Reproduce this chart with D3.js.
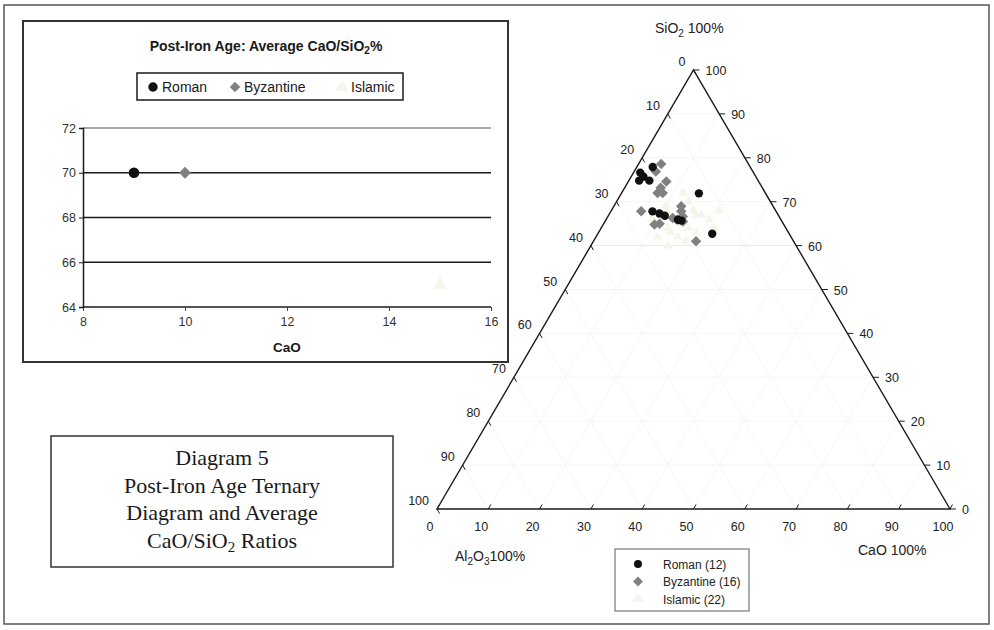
<!DOCTYPE html>
<html>
<head>
<meta charset="utf-8">
<script src="https://cdn.jsdelivr.net/npm/d3@7.9.0/dist/d3.min.js"></script>
<style>
  body { margin: 0; background: #fff; }
  svg { display: block; }
  .sans { font-family: "Liberation Sans", Arial, sans-serif; }
  .serif { font-family: "Liberation Serif", "Times New Roman", serif; }
</style>
</head>
<body>
<svg id="chart" width="994" height="630"></svg>
<script>
// ---- data ----
const groups = ["Roman", "Byzantine", "Islamic"];
const groupCounts = [12, 16, 22];

// ternary compositions (%)
const romanSiO2  = [76.7, 77.9, 74.8, 74.8, 71.9, 67.8, 66.8, 65.9, 62.7, 75.7, 67.3, 65.7];
const romanAl2O3 = [22.1, 19.0, 23.2, 21.2, 13.0, 24.1, 22.2, 20.1, 15.0, 21.9, 23.0, 19.5];
const romanCaO   = [ 1.3,  3.1,  2.0,  4.0, 15.1,  8.1, 11.0, 14.0, 22.3,  2.4,  9.7, 14.8];

const byzSiO2  = [78.6, 76.9, 74.6, 72.0, 72.0, 67.8, 64.8, 65.0, 68.9, 67.8, 66.7, 66.3, 65.5, 61.0, 73.2, 65.9];
const byzAl2O3 = [17.0, 18.9, 18.0, 21.0, 20.0, 26.3, 25.2, 24.1, 17.9, 18.5, 18.8, 20.9, 19.3, 19.0, 19.8, 20.2];
const byzCaO   = [ 4.4,  4.2,  7.4,  7.0,  8.0,  5.9, 10.0, 10.9, 13.1, 13.7, 14.6, 12.8, 15.2, 20.0,  7.0, 13.9];

const islSiO2 = [72, 70, 69, 68, 67, 66, 66, 65, 65, 64, 64, 63, 63, 62, 62, 61, 66, 68, 60, 64, 67, 68];
const islCaO  = [12, 14, 10, 16, 18, 13, 20, 15, 11, 17, 22, 14, 19, 16, 12, 18,  9, 21, 15, 13, 17, 11];
const islAl2O3 = islSiO2.map((s, i) => 100 - s - islCaO[i]);

// inset: average CaO / SiO2
const avgCaO  = [9, 10, 15];
const avgSiO2 = [70, 70, 65];

const insetXTicks = [8, 10, 12, 14, 16];
const insetYTicks = [64, 66, 68, 70, 72];
const ternaryTicks = [0, 10, 20, 30, 40, 50, 60, 70, 80, 90, 100];

// ---- drawing ----
const svg = d3.select("#chart");
const ink = "#1a1a1a";
const markColor = ["#111", "#808080", "#f5f5ec"];

function symbolPath(i, size) {
  if (i === 0) return d3.symbol(d3.symbolCircle, size)();
  if (i === 1) return d3.symbol(d3.symbolSquare, size)();
  return d3.symbol(d3.symbolTriangle, size)();
}
function addMark(g, i, x, y, size) {
  g.append("path")
    .attr("d", symbolPath(i, size))
    .attr("transform", `translate(${x},${y})` + (i === 1 ? " rotate(45)" : ""))
    .attr("fill", markColor[i]);
}

// outer frame
svg.append("rect")
  .attr("x", 4).attr("y", 5).attr("width", 985).attr("height", 619)
  .attr("fill", "none").attr("stroke", "#555").attr("stroke-width", 1.5);

// ===== inset chart =====
const inset = svg.append("g").attr("class", "sans");
inset.append("rect")
  .attr("x", 23).attr("y", 21).attr("width", 485).attr("height", 341)
  .attr("fill", "#fff").attr("stroke", "#333").attr("stroke-width", 2);

const ix = d3.scaleLinear().domain([8, 16]).range([83, 491]);
const iy = d3.scaleLinear().domain([64, 72]).range([307, 128]);

const title = inset.append("text")
  .attr("x", 266).attr("y", 51)
  .attr("text-anchor", "middle")
  .attr("font-size", 14).attr("font-weight", "bold").attr("fill", ink);
title.append("tspan").text("Post-Iron Age: Average CaO/SiO");
title.append("tspan").attr("font-size", 10).attr("dy", 3).text("2");
title.append("tspan").attr("dy", -3).text("%");

// legend
inset.append("rect")
  .attr("x", 137).attr("y", 73).attr("width", 266).attr("height", 27)
  .attr("fill", "none").attr("stroke", ink).attr("stroke-width", 1.5);
const insetLegendX = [153, 235, 342];
groups.forEach((name, i) => {
  addMark(inset, i, insetLegendX[i], 87, i === 1 ? 55 : 70);
  inset.append("text")
    .attr("x", insetLegendX[i] + 9).attr("y", 92)
    .attr("font-size", 14).attr("fill", ink)
    .text(name);
});

// gridlines
insetYTicks.forEach(v => {
  inset.append("line")
    .attr("x1", ix(8)).attr("x2", ix(16))
    .attr("y1", iy(v)).attr("y2", iy(v))
    .attr("stroke", v === 72 ? "#8a8a8a" : ink)
    .attr("stroke-width", v === 64 ? 1.6 : 1.4);
});

const xAxis = d3.axisBottom(ix).tickValues(insetXTicks).tickSize(4).tickPadding(6);
const yAxis = d3.axisLeft(iy).tickValues(insetYTicks).tickSize(4).tickPadding(3);

inset.append("g")
  .attr("transform", `translate(0,${iy(64)})`)
  .call(xAxis)
  .call(g => g.select(".domain").remove())
  .call(g => g.selectAll("line").attr("stroke", "#444"))
  .call(g => g.selectAll("text").attr("font-size", 12.5).attr("fill", "#333")
    .attr("font-family", "Liberation Sans, Arial, sans-serif"));

inset.append("g")
  .attr("transform", `translate(${ix(8)},0)`)
  .call(yAxis)
  .call(g => g.select(".domain").attr("stroke", ink).attr("stroke-width", 1.5))
  .call(g => g.selectAll("line").attr("stroke", ink))
  .call(g => g.selectAll("text").attr("font-size", 12.5).attr("fill", "#333")
    .attr("font-family", "Liberation Sans, Arial, sans-serif"));

inset.append("text")
  .attr("x", 287).attr("y", 352)
  .attr("text-anchor", "middle")
  .attr("font-size", 13.5).attr("font-weight", "bold").attr("fill", ink)
  .text("CaO");

avgCaO.forEach((c, i) => {
  addMark(inset, i, ix(c), iy(avgSiO2[i]), i === 1 ? 70 : 88);
});

// ===== caption box =====
const cap = svg.append("g").attr("class", "serif");
cap.append("rect")
  .attr("x", 51).attr("y", 436).attr("width", 342).attr("height", 131)
  .attr("fill", "#fff").attr("stroke", "#333").attr("stroke-width", 1.5);
const capLines = ["Diagram 5", "Post-Iron Age Ternary", "Diagram and Average"];
capLines.forEach((t, i) => {
  cap.append("text")
    .attr("x", 222).attr("y", 465 + i * 27.5)
    .attr("text-anchor", "middle")
    .attr("font-size", 22).attr("fill", ink)
    .text(t);
});
const capLast = cap.append("text")
  .attr("x", 222).attr("y", 465 + 3 * 27.5)
  .attr("text-anchor", "middle")
  .attr("font-size", 22).attr("fill", ink);
capLast.append("tspan").text("CaO/SiO");
capLast.append("tspan").attr("font-size", 15).attr("dy", 4).text("2");
capLast.append("tspan").attr("dy", -4).text(" Ratios");

// ===== ternary =====
const tern = svg.append("g").attr("class", "sans");
const base = d3.scaleLinear().domain([0, 100]).range([437, 950]);
const height = d3.scaleLinear().domain([0, 100]).range([509, 70]);

// point from composition
function tp(si, al, ca) {
  const t = si + al + ca;
  const s = si / t * 100, c = ca / t * 100;
  return [base(c + s / 2), height(s)];
}

// faint grid
const grid = tern.append("g").attr("stroke", "#f6f6f6").attr("stroke-width", 1).attr("fill", "none");
ternaryTicks.slice(1, -1).forEach(v => {
  // constant SiO2
  let a = tp(v, 100 - v, 0), b = tp(v, 0, 100 - v);
  grid.append("line").attr("x1", a[0]).attr("y1", a[1]).attr("x2", b[0]).attr("y2", b[1])
    .attr("stroke", v === 60 ? "#ebebe4" : "#f6f6f6");
  // constant CaO
  a = tp(100 - v, 0, v); b = tp(0, 100 - v, v);
  grid.append("line").attr("x1", a[0]).attr("y1", a[1]).attr("x2", b[0]).attr("y2", b[1]);
  // constant Al2O3
  a = tp(100 - v, v, 0); b = tp(0, v, 100 - v);
  grid.append("line").attr("x1", a[0]).attr("y1", a[1]).attr("x2", b[0]).attr("y2", b[1]);
});

// triangle outline
const vT = tp(100, 0, 0), vL = tp(0, 100, 0), vR = tp(0, 0, 100);
tern.append("path")
  .attr("d", d3.line()([vL, vR, vT, vL]) + "Z")
  .attr("fill", "none").attr("stroke", ink).attr("stroke-width", 1.4);

// ticks and labels
const tickG = tern.append("g").attr("stroke", ink).attr("stroke-width", 1);
const labG = tern.append("g").attr("font-size", 12.5).attr("fill", "#222");
ternaryTicks.forEach(v => {
  // bottom axis: CaO 0 -> 100
  let p = tp(0, 100 - v, v);
  tickG.append("line").attr("x1", p[0]).attr("y1", p[1]).attr("x2", p[0] + 2.5).attr("y2", p[1] - 4.5);
  labG.append("text").attr("x", p[0] - 7).attr("y", p[1] + 22).attr("text-anchor", "middle").text(v);
  // left axis: Al2O3 0 (top) -> 100 (bottom left)
  p = tp(100 - v, v, 0);
  tickG.append("line").attr("x1", p[0]).attr("y1", p[1]).attr("x2", p[0] + 2.5).attr("y2", p[1] + 4.5);
  labG.append("text").attr("x", p[0] - 8).attr("y", p[1] - 4).attr("text-anchor", "end").text(v);
  // right axis: SiO2 0 (bottom right) -> 100 (top)
  p = tp(v, 0, 100 - v);
  tickG.append("line").attr("x1", p[0]).attr("y1", p[1]).attr("x2", p[0] + 6).attr("y2", p[1]);
  labG.append("text").attr("x", p[0] + 12).attr("y", p[1] + 5).attr("text-anchor", "start").text(v);
});

// vertex labels (subscripts as lowered tspans)
function chemLabel(x, y, parts) {
  const t = tern.append("text").attr("x", x).attr("y", y)
    .attr("font-size", 14).attr("fill", "#222");
  let low = false;
  parts.forEach(([txt, sub]) => {
    const dy = sub ? (low ? 0 : 4) : (low ? -4 : 0);
    low = !!sub;
    const s = t.append("tspan").attr("dy", dy).text(txt);
    if (sub) s.attr("font-size", 10);
  });
}
chemLabel(655, 33, [["SiO"], ["2", true], [" 100%"]]);
chemLabel(455, 561, [["Al"], ["2", true], ["O"], ["3", true], ["100%"]]);
tern.append("text").attr("x", 858).attr("y", 555)
  .attr("font-size", 14).attr("fill", "#222").text("CaO 100%");

// data marks: Islamic first (faint), then Byzantine, then Roman
const marks = tern.append("g");
islSiO2.forEach((s, i) => {
  const p = tp(s, islAl2O3[i], islCaO[i]);
  addMark(marks, 2, p[0], p[1], 40);
});
byzSiO2.forEach((s, i) => {
  const p = tp(s, byzAl2O3[i], byzCaO[i]);
  addMark(marks, 1, p[0], p[1], 55);
});
romanSiO2.forEach((s, i) => {
  const p = tp(s, romanAl2O3[i], romanCaO[i]);
  addMark(marks, 0, p[0], p[1], 55);
});

// ternary legend
const tl = svg.append("g").attr("class", "sans");
tl.append("rect")
  .attr("x", 615).attr("y", 549).attr("width", 134).attr("height", 62)
  .attr("fill", "#fff").attr("stroke", "#777").attr("stroke-width", 1.2);
groups.forEach((name, i) => {
  const y = 564 + i * 17.5;
  addMark(tl, i, 638, y, i === 1 ? 48 : 50);
  tl.append("text").attr("x", 663).attr("y", y + 4.5)
    .attr("font-size", 12).attr("fill", "#222")
    .text(`${name} (${groupCounts[i]})`);
});
</script>
</body>
</html>
